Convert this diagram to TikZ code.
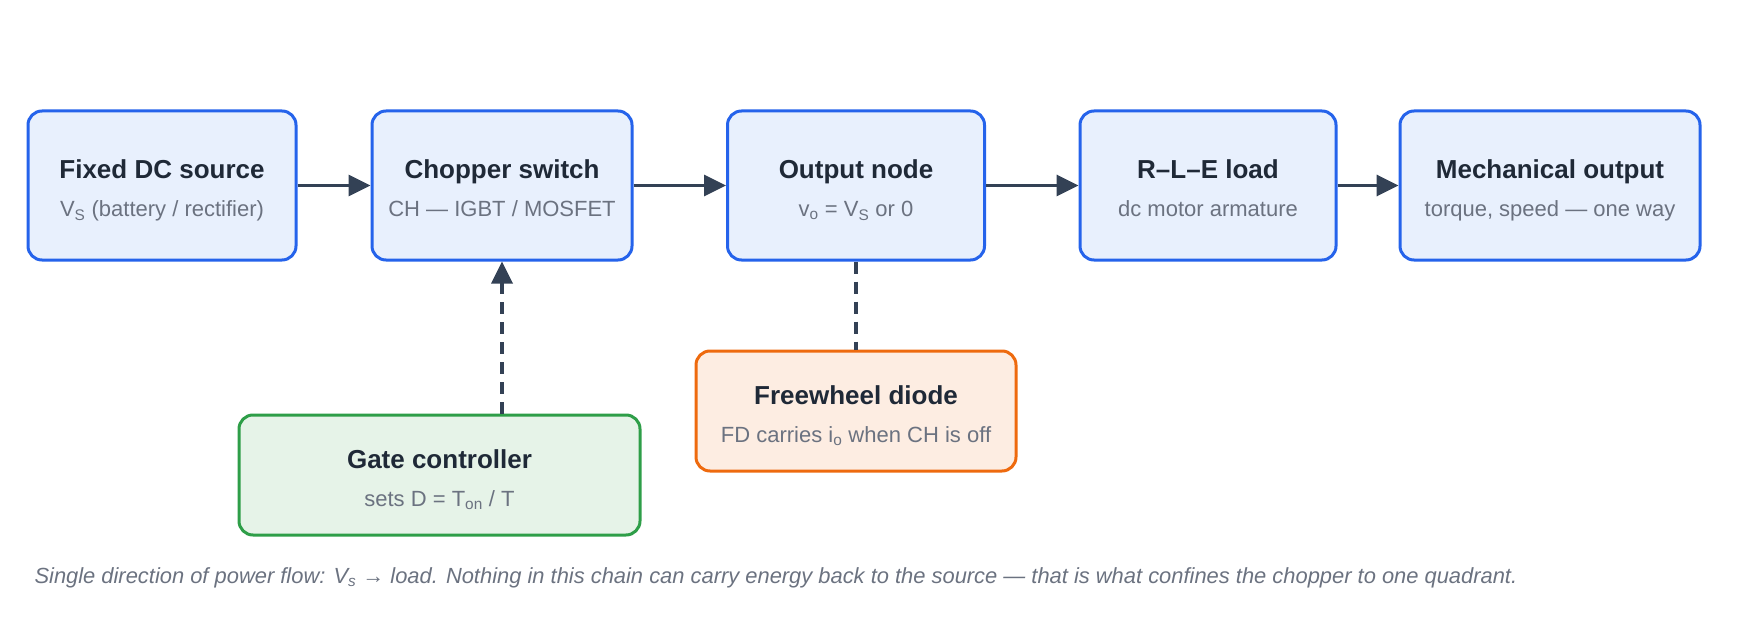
\documentclass[tikz,border=0pt]{standalone}
\usepackage{fontspec}
\setmainfont{Liberation Sans}
\usetikzlibrary{positioning,arrows.meta}
\definecolor{blockblue}{HTML}{2563EB}
\definecolor{blockbluefill}{HTML}{E8F0FD}
\definecolor{gategreen}{HTML}{2E9E48}
\definecolor{gategreenfill}{HTML}{E6F3E8}
\definecolor{diodeorange}{HTML}{EE6A0E}
\definecolor{diodeorangefill}{HTML}{FDEDE2}
\definecolor{titleink}{HTML}{1F2937}
\definecolor{subink}{HTML}{6B7280}
\definecolor{wireink}{HTML}{334155}
\newcommand{\blocktext}[2]{{\fontsize{26}{38}\selectfont\bfseries\color{titleink}\rule{0pt}{29pt}#1}\\{\color{subink}\rule[-5pt]{0pt}{5pt}#2}}

\begin{document}
\begin{tikzpicture}
        [x=1pt, y=-1pt,
        block/.style={draw=blockblue, fill=blockbluefill, line width=3pt,
        rounded corners=14pt, minimum height=149pt, align=center,
        font=\fontsize{22}{38}\selectfont},
        % side boxes below the chain
        gatebox/.style={block, draw=gategreen, fill=gategreenfill, minimum height=120pt},
        diodebox/.style={block, draw=diodeorange, fill=diodeorangefill, minimum height=120pt},
        flow/.style={draw=wireink, line width=3.5pt, -{Triangle[length=22pt, width=21pt]}},
        control/.style={flow, dash pattern=on 12pt off 8pt},
        link/.style={draw=wireink, line width=3.5pt, dash pattern=on 12pt off 8pt}]
        \useasboundingbox (0,0) rectangle (1760,620);
        \node [block, minimum width=268pt] (source) at (162,185.5)
            {\blocktext{Fixed DC source}{V\textsubscript{S} (battery / rectifier)}};
        \node [block, minimum width=260pt] (chopper) at (502,185.5)
            {\blocktext{Chopper switch}{CH — IGBT / MOSFET}};
        \node [block, minimum width=257pt] (output) at (856,185.5)
            {\blocktext{Output node}{v\textsubscript{o} = V\textsubscript{S} or 0}};
        \node [block, minimum width=256pt] (load) at (1208,185.5)
            {\blocktext{R–L–E load}{dc motor armature}};
        \node [block, minimum width=300pt] (mech) at (1550,185.5)
            {\blocktext{Mechanical output}{torque, speed — one way}};
        \node [gatebox, minimum width=401pt] (gate) at (439.5,475)
            {\blocktext{Gate controller}{sets D = T\textsubscript{on} / T}};
        \node [diodebox, minimum width=320pt] (diode) at (856,411)
            {\blocktext{Freewheel diode}{FD carries i\textsubscript{o} when CH is off}};
        \node [anchor=west, font=\fontsize{21.9}{26}\selectfont\itshape, text=subink] (caption) at (31,578)
            {Single direction of power flow: V\textsubscript{s} → load. Nothing in this chain can carry energy back to the source — that is what confines the chopper to one quadrant.};
        \draw [flow] (source) -- (chopper);
        \draw [flow] (chopper) -- (output);
        \draw [flow] (output) -- (load);
        \draw [flow] (load) -- (mech);
        \draw [control] (gate.north -| chopper.south) -- (chopper.south);
        \draw [link] (output.south) -- (diode.north);
\end{tikzpicture}
\end{document}
